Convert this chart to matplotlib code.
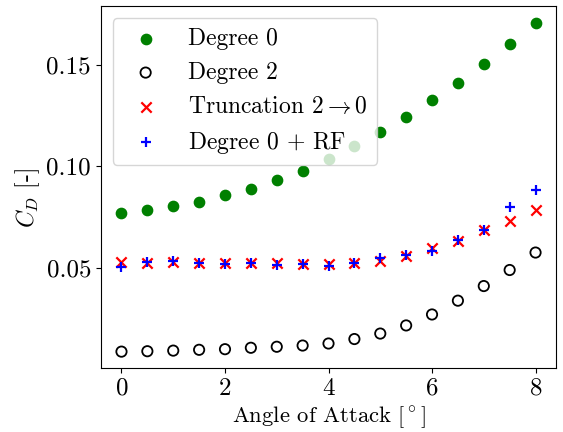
import numpy as np
import matplotlib
matplotlib.use('Agg')
import matplotlib.pyplot as plt

plt.rcParams['font.family'] = 'serif'
plt.rcParams['font.serif'] = ['cmr10']
plt.rcParams['mathtext.fontset'] = 'cm'
plt.rcParams['axes.formatter.use_mathtext'] = True
plt.rcParams['font.size'] = 18

# angle of attack in degrees
aoa = np.arange(0, 8.5, 0.5)

cd_deg0 = [0.0771, 0.0782, 0.0801, 0.0823, 0.0855, 0.0886, 0.0932, 0.0978, 0.1037,
           0.1098, 0.1166, 0.1241, 0.1324, 0.1408, 0.1501, 0.1600, 0.1705]
cd_deg2 = [0.0086, 0.0088, 0.0091, 0.0095, 0.0098, 0.0105, 0.0110, 0.0116, 0.0126,
           0.0148, 0.0175, 0.0215, 0.0269, 0.0337, 0.0409, 0.0488, 0.0574]
cd_trunc = [0.0526, 0.0524, 0.0528, 0.0524, 0.0521, 0.0523, 0.0521, 0.0519, 0.0516,
            0.0523, 0.0534, 0.0559, 0.0595, 0.0633, 0.0686, 0.0731, 0.0784]
cd_rf = [0.0504, 0.0528, 0.0533, 0.0524, 0.0516, 0.0521, 0.0511, 0.0516, 0.0508,
         0.0523, 0.0547, 0.0564, 0.0583, 0.0636, 0.0686, 0.0797, 0.0884]

fig = plt.figure(figsize=(5.63, 4.32), dpi=100)
ax = fig.add_axes([0.179, 0.148, 0.809, 0.837])

ax.scatter(aoa, cd_deg0, s=55, c='green', label='Degree 0')
ax.scatter(aoa, cd_deg2, s=55, facecolors='none', edgecolors='black', linewidths=1.3,
           label='Degree 2')
ax.scatter(aoa, cd_trunc, s=55, c='red', marker='x', linewidths=1.6,
           label=r'Truncation $2 \rightarrow 0$')
ax.scatter(aoa, cd_rf, s=55, c='blue', marker='+', linewidths=1.6,
           label=r'Degree $0$ $+$ RF')

ax.set_xticks([0, 2, 4, 6, 8])
ax.set_yticks([0.05, 0.10, 0.15])
ax.set_yticklabels(['0.05', '0.10', '0.15'])
ax.set_xlabel(r'Angle of Attack [$^\circ$]', fontsize=16.3, labelpad=3)
ax.set_ylabel(r'$C_D$ [-]', fontsize=17)
ax.yaxis.set_label_coords(-0.13, 0.47)
ax.legend(loc='upper left', fontsize=17)

fig.savefig('out.png', dpi=100)
